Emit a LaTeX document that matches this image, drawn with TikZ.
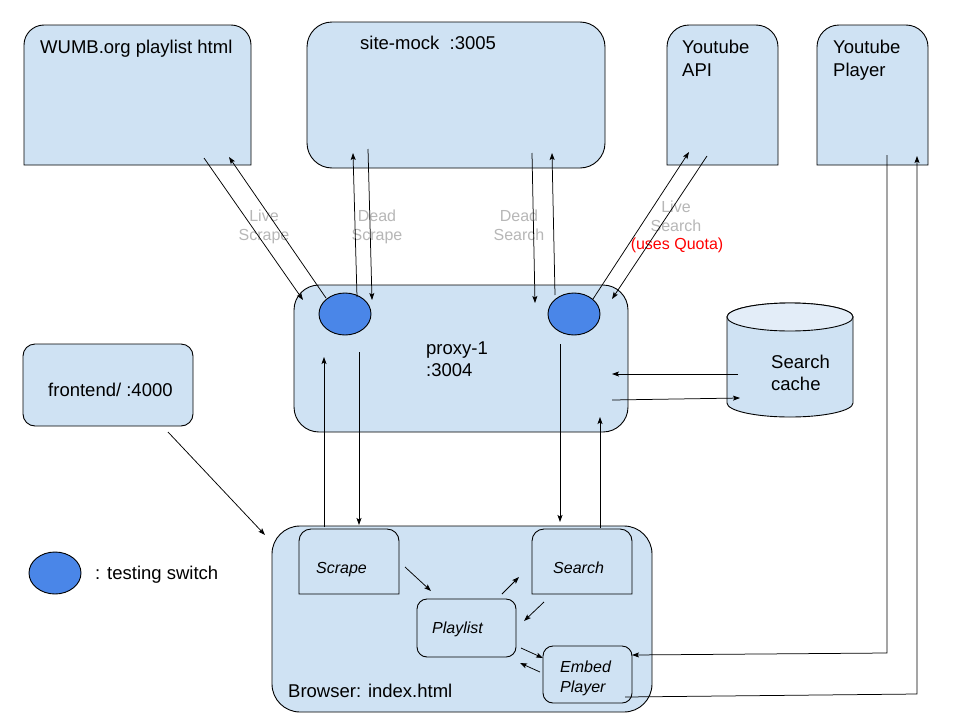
\documentclass[tikz,border=0pt]{standalone}
\usepackage{fontspec}
\setmainfont{Liberation Sans}
\usetikzlibrary{arrows.meta,shapes.geometric}
\definecolor{boxblue}{HTML}{CFE2F3}
\definecolor{capblue}{HTML}{E3EDF8}
\definecolor{switchblue}{HTML}{4A86E8}
\definecolor{lblgray}{HTML}{B7B7B7}
\begin{document}
\begin{tikzpicture}[x=1pt,y=-1pt,
  box/.style={draw=black,fill=boxblue,line width=0.9pt},
  switchnode/.style={draw=black,fill=switchblue,ellipse,line width=0.9pt,minimum width=52pt,minimum height=42pt,inner sep=0pt},
  big/.style={font=\fontsize{18.5}{22}\selectfont,inner sep=0pt,anchor=base west},
  small/.style={font=\fontsize{16}{19}\selectfont,inner sep=0pt,anchor=base},
  smallit/.style={font=\fontsize{16}{19}\selectfont\itshape,inner sep=0pt,anchor=base west},
  graylbl/.style={small,text=lblgray},
  conn/.style={draw=black,line width=0.75pt,-{Stealth[length=7pt,width=5pt,inset=1.5pt]}}
]
\fill[white] (0,0) rectangle (960,720);
\useasboundingbox (0,0) rectangle (960,720);

% ---------- top boxes ----------
\draw[box] (24,165) -- (24,45) arc[start angle=180,end angle=270,radius=20] -- (231,25) arc[start angle=270,end angle=360,radius=20] -- (251,165) -- cycle;
\node[big] (wumb) at (40,53) {WUMB.org playlist html};

\draw[box,rounded corners=25pt] (307,22) rectangle (605,168);
\node[big] (sitemock) at (360,49) {site-mock\ \ :3005};

\draw[box] (667,165) -- (667,47) arc[start angle=180,end angle=270,radius=22] -- (756,25) arc[start angle=270,end angle=360,radius=22] -- (778,165) -- cycle;
\node[big] (ytapi1) at (682,53) {Youtube};
\node[big] (ytapi2) at (682,76) {API};

\draw[box] (817,165) -- (817,47) arc[start angle=180,end angle=270,radius=22] -- (906,25) arc[start angle=270,end angle=360,radius=22] -- (928,165) -- cycle;
\node[big] (ytpl1) at (833,53) {Youtube};
\node[big] (ytpl2) at (833,76) {Player};

% ---------- proxy ----------
\draw[box,rounded corners=25pt] (294,285) rectangle (628,432);
\node[big] (proxy1) at (426,354) {proxy-1};
\node[big] (proxy2) at (426,376) {:3004};
\node[switchnode] (swL) at (345,314) {};
\node[switchnode] (swR) at (574,314) {};

% ---------- search cache ----------
\draw[fill=boxblue,line width=0.9pt] (727,317) -- (727,403) arc[start angle=180,end angle=0,x radius=63,y radius=14] -- (853,317) arc[start angle=0,end angle=-180,x radius=63,y radius=14] -- cycle;
\draw[fill=capblue,line width=0.9pt] (790,317) ellipse[x radius=63,y radius=14];
\node[big] (cache1) at (771,368) {Search};
\node[big] (cache2) at (771,390) {cache};

% ---------- frontend & legend ----------
\draw[box,rounded corners=12pt] (23,344) rectangle (193,426);
\node[big] (frontend) at (48,396) {frontend/ :4000};
\node[switchnode] (legsw) at (55,573) {};
\node[big] (legtxt) at (95,579) {: testing switch};

% ---------- browser ----------
\draw[box,rounded corners=28pt] (272,526) rectangle (652,712);
\node[big] (browser) at (288,697) {Browser: index.html};

\draw[box] (299,594) -- (299,541) arc[start angle=180,end angle=270,radius=12] -- (387,529) arc[start angle=270,end angle=360,radius=12] -- (399,594) -- cycle;
\node[smallit] (scrape) at (316,573) {Scrape};

\draw[box] (532,594) -- (532,541) arc[start angle=180,end angle=270,radius=12] -- (620,529) arc[start angle=270,end angle=360,radius=12] -- (632,594) -- cycle;
\node[smallit] (search) at (553,573) {Search};

\draw[box,rounded corners=10pt] (417,599) rectangle (516,657);
\node[smallit] (playlist) at (432,633) {Playlist};

\draw[box,rounded corners=10pt] (543,646) rectangle (632,703);
\node[smallit] (embed1) at (560,672) {Embed};
\node[smallit] (embed2) at (560,692) {Player};

% ---------- connector labels ----------
\node[graylbl] (ls1) at (264,221) {Live};
\node[graylbl] (ls2) at (264,240) {Scrape};
\node[graylbl] (ds1) at (377,221) {Dead};
\node[graylbl] (ds2) at (377,240) {Scrape};
\node[graylbl] (dq1) at (519,221) {Dead};
\node[graylbl] (dq2) at (519,240) {Search};
\node[graylbl] (lq1) at (676,212) {Live};
\node[graylbl] (lq2) at (676,231) {Search};
\node[small,text=red] (quota) at (677,249) {(uses Quota)};

% ---------- connector end points ----------
\coordinate (a1) at (204,158);  \coordinate (a2) at (303,300);
\coordinate (b1) at (326,298);  \coordinate (b2) at (229,157);
\coordinate (c1) at (357,297);  \coordinate (c2) at (353,153);
\coordinate (d1) at (368,149);  \coordinate (d2) at (372,300);
\coordinate (e1) at (532,153);  \coordinate (e2) at (535,303);
\coordinate (f1) at (555,295);  \coordinate (f2) at (552,153);
\coordinate (g1) at (593,299);  \coordinate (g2) at (689,152);
\coordinate (h1) at (707,156);  \coordinate (h2) at (612,299);
\coordinate (i1) at (324,527);  \coordinate (i2) at (324,357);
\coordinate (j1) at (359,352);  \coordinate (j2) at (359,525);
\coordinate (k1) at (560,344);  \coordinate (k2) at (560,522);
\coordinate (l1) at (600,528);  \coordinate (l2) at (600,417);
\coordinate (m1) at (738,374);  \coordinate (m2) at (612,374);
\coordinate (n1) at (612,400);  \coordinate (n2) at (740,398);
\coordinate (o1) at (168,432);  \coordinate (o2) at (265,535);
\coordinate (p1) at (405,567);  \coordinate (p2) at (431,591);
\coordinate (q1) at (502,594);  \coordinate (q2) at (519,577);
\coordinate (r1) at (544,602);  \coordinate (r2) at (524,621);
\coordinate (s1) at (521,648);  \coordinate (s2) at (543,658);
\coordinate (t1) at (540,672);  \coordinate (t2) at (520,663);
\coordinate (u1) at (887,155);  \coordinate (u2) at (887,653);  \coordinate (u3) at (632,655);
\coordinate (v1) at (625,697);  \coordinate (v2) at (917,694);  \coordinate (v3) at (917,156);

% ---------- connectors ----------
\draw[conn] (a1) -- (a2);
\draw[conn] (b1) -- (b2);
\draw[conn] (c1) -- (c2);
\draw[conn] (d1) -- (d2);
\draw[conn] (e1) -- (e2);
\draw[conn] (f1) -- (f2);
\draw[conn] (g1) -- (g2);
\draw[conn] (h1) -- (h2);
\draw[conn] (i1) -- (i2);
\draw[conn] (j1) -- (j2);
\draw[conn] (k1) -- (k2);
\draw[conn] (l1) -- (l2);
\draw[conn] (m1) -- (m2);
\draw[conn] (n1) -- (n2);
\draw[conn] (o1) -- (o2);
\draw[conn] (p1) -- (p2);
\draw[conn] (q1) -- (q2);
\draw[conn] (r1) -- (r2);
\draw[conn] (s1) -- (s2);
\draw[conn] (t1) -- (t2);
\draw[conn] (u1) -- (u2) -- (u3);
\draw[conn] (v1) -- (v2) -- (v3);
\end{tikzpicture}
\end{document}
